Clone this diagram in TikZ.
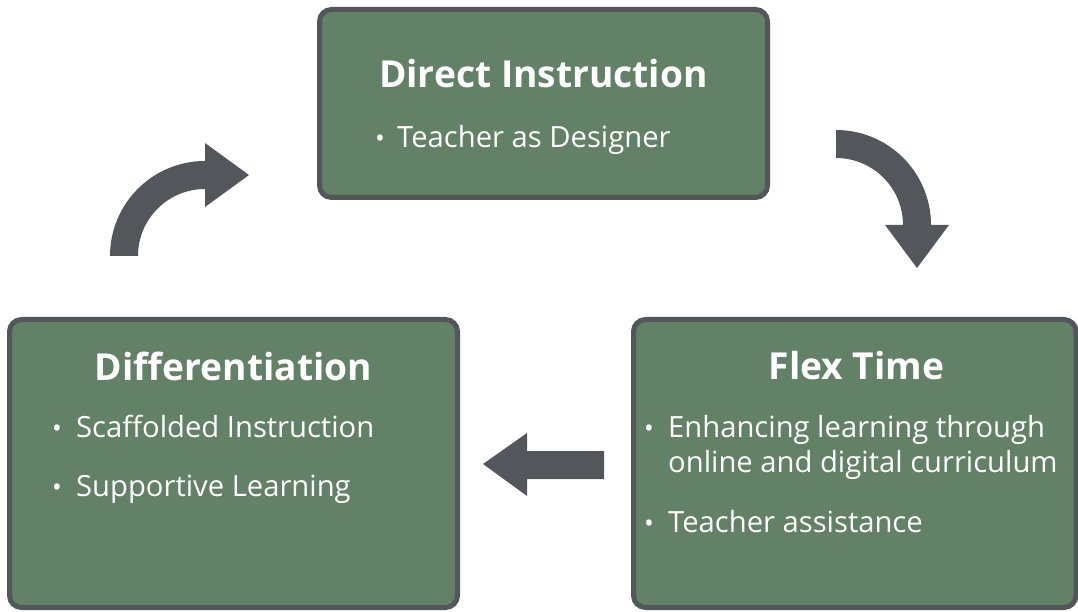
\documentclass[tikz,border=0pt]{standalone}
\usepackage{fontspec}
\setmainfont{Open Sans}
\definecolor{boxgreen}{RGB}{98,129,102}
\definecolor{edgegrey}{RGB}{83,86,90}
\tikzset{
  stagebox/.style={draw=edgegrey, fill=boxgreen, line width=5pt, rounded corners=12pt, inner sep=0pt},
  headtext/.style={anchor=base, text=white, inner sep=0pt, font=\fontsize{37.2}{40}\selectfont\bfseries},
  itemtext/.style={anchor=base west, text=white, inner sep=0pt, font=\fontsize{29.2}{35}\selectfont},
  dottext/.style={anchor=base, text=white, inner sep=0pt, font=\fontsize{26}{35}\selectfont}
}
\begin{document}
\begin{tikzpicture}[x=1pt, y=1pt]
    \useasboundingbox (0,0) rectangle (1078,611);
    \node[stagebox, minimum width=448pt, minimum height=188pt] (direct) at (543.5,507.5) {};
    \node[stagebox, minimum width=448pt, minimum height=288pt] (diff) at (233.5,147.5) {};
    \node[stagebox, minimum width=442.5pt, minimum height=288pt] (flex) at (854.75,147.5) {};
    \node[headtext] (directhead) at (543.5,523) {Direct Instruction};
    \node[dottext] at (380,463) {•};
    \node[itemtext] (designer) at (397,463) {Teacher as Designer};
    \node[headtext] (diffhead) at (233.5,231) {Differentiation};
    \node[dottext] at (57,174) {•};
    \node[itemtext] (scaffold) at (76,174) {Scaffolded Instruction};
    \node[dottext] at (57,115) {•};
    \node[itemtext] (support) at (76,115) {Supportive Learning};
    \node[headtext] (flexhead) at (856.5,232) {Flex Time};
    \node[dottext] at (649,174) {•};
    \node[itemtext] (enhance) at (668,174) {Enhancing learning through};
    \node[itemtext] (online) at (668,139) {online and digital curriculum};
    \node[dottext] at (649,79) {•};
    \node[itemtext] (assist) at (668,79) {Teacher assistance};
    \fill[edgegrey] (110,355) arc[start angle=180, end angle=90, radius=95] -- (205,468) -- (249,436) -- (205,404) -- (205,422) arc[start angle=90, end angle=180, radius=67] -- cycle;
    \fill[edgegrey] (836,481) arc[start angle=90, end angle=0, radius=95] -- (949,386) -- (917,343) -- (885,386) -- (903,386) arc[start angle=0, end angle=90, radius=67] -- cycle;
    \fill[edgegrey] (604,160) -- (604,132) -- (527,132) -- (527,115) -- (483,147) -- (527,178) -- (527,160) -- cycle;
\end{tikzpicture}
\end{document}
